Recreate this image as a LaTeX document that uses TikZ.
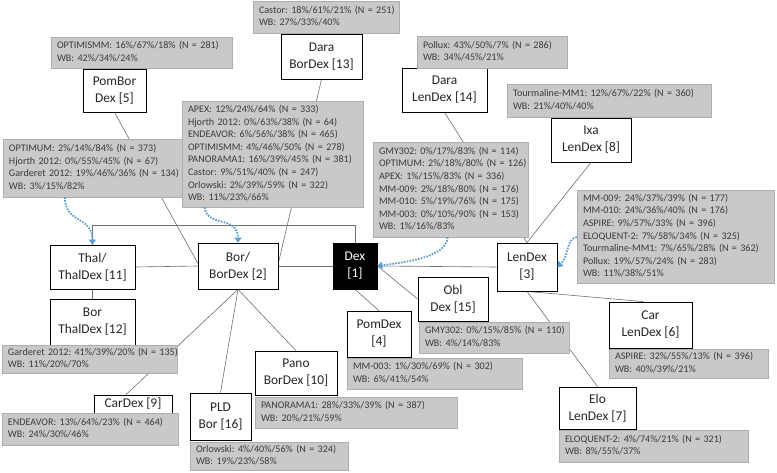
\documentclass[tikz,border=0pt]{standalone}
\usepackage{fontspec}
\setmainfont{Carlito}
\usetikzlibrary{arrows.meta,calc,backgrounds}
\definecolor{boxgray}{HTML}{C9C9C9}
\definecolor{boxedge}{HTML}{ADADAD}
\definecolor{linegray}{HTML}{6F6F6F}
\definecolor{dotblue}{HTML}{5B9BD5}
\definecolor{txt}{HTML}{3B3B3B}
\newcommand{\gtab}[1]{\begin{tabular}{@{}l@{}}#1\end{tabular}}
\frenchspacing
\begin{document}
\frenchspacing
\begin{tikzpicture}[x=1pt,y=-1pt,
  nb/.style={draw=black, line width=0.8pt, fill=white, text=black!85, align=center, inner sep=0pt, font=\fontsize{13.4}{17}\selectfont},
  gb/.style={draw=boxedge, line width=0.5pt, fill=boxgray, text=txt, inner xsep=6pt, inner ysep=0pt,
    font=\fontsize{10.1}{12.6}\selectfont\frenchspacing},
  con/.style={draw=linegray, line width=0.6pt},
  dotarrow/.style={draw=dotblue, line width=1.8pt, dash pattern=on 1.6pt off 1.3pt, -{Triangle[width=7pt,length=5pt]}}]
\useasboundingbox (0,0) rectangle (777,472);

% main nodes
\node[nb, minimum width=63pt, minimum height=43pt] (n5) at (114.5,90.5) {PomBor\\Dex [5]};
\node[nb, minimum width=81pt, minimum height=45pt] (n13) at (321.5,56.5) {Dara\\BorDex [13]};
\node[nb, minimum width=85pt, minimum height=44pt] (n14) at (444.5,90) {Dara\\LenDex [14]};
\node[nb, minimum width=80pt, minimum height=44pt] (n8) at (591,140) {Ixa\\LenDex [8]};
\node[nb, minimum width=60pt, minimum height=48pt] (n3) at (527,267) {LenDex\\{}[3]};
\node[nb, minimum width=44pt, minimum height=46pt, fill=black, text=white] (n1) at (355,266) {Dex\\{}[1]};
\node[nb, minimum width=80pt, minimum height=46pt] (n2) at (238,266) {Bor/\\BorDex [2]};
\node[nb, minimum width=85pt, minimum height=44pt] (n11) at (92.5,267) {Thal/\\ThalDex [11]};
\node[nb, minimum width=85pt, minimum height=46pt] (n12) at (92.5,322) {Bor\\ThalDex [12]};
\node[nb, minimum width=78pt, minimum height=18pt] (n9) at (133,404) {CarDex [9]};
\node[nb, minimum width=61pt, minimum height=47pt] (n16) at (220.5,416.5) {PLD\\Bor [16]};
\node[nb, minimum width=82pt, minimum height=44pt] (n10) at (296,373) {Pano\\BorDex [10]};
\node[nb, minimum width=64pt, minimum height=46pt] (n4) at (379,334) {PomDex\\{}[4]};
\node[nb, minimum width=70pt, minimum height=44pt] (n15) at (453,299) {Obl\\Dex [15]};
\node[nb, minimum width=83pt, minimum height=46pt] (n6) at (650.5,325) {Car\\LenDex [6]};
\node[nb, minimum width=77pt, minimum height=42pt] (n7) at (597.5,408) {Elo\\LenDex [7]};

% gray data boxes
\node[gb, text width=169pt, minimum height=31pt] (b5) at (141.5,52.5) {\gtab{OPTIMISMM: 16\%/67\%/18\% (N = 281)\\WB: 42\%/34\%/24\%}};
\node[gb, text width=134pt, minimum height=32pt] (b13) at (326,17) {\gtab{Castor: 18\%/61\%/21\% (N = 251)\\WB: 27\%/33\%/40\%}};
\node[gb, text width=138pt, minimum height=32pt] (b14) at (492,52) {\gtab{Pollux: 43\%/50\%/7\% (N = 286)\\WB: 34\%/45\%/21\%}};
\node[gb, text width=192pt, minimum height=33pt] (b8) at (609,100.5) {\gtab{Tourmaline-MM1: 12\%/67\%/22\% (N = 360)\\WB: 21\%/40\%/40\%}};
\node[gb, text width=169pt, minimum height=58pt] (bThal) at (93.5,168) {\gtab{OPTIMUM: 2\%/14\%/84\% (N = 373)\\Hjorth 2012: 0\%/55\%/45\% (N = 67)\\Garderet 2012: 19\%/46\%/36\% (N = 134)\\WB: 3\%/15\%/82\%}};
\node[gb, text width=169pt, minimum height=106pt] (bBor) at (272.5,154) {\gtab{APEX: 12\%/24\%/64\% (N = 333)\\Hjorth 2012: 0\%/63\%/38\% (N = 64)\\ENDEAVOR: 6\%/56\%/38\% (N = 465)\\OPTIMISMM: 4\%/46\%/50\% (N = 278)\\PANORAMA1: 16\%/39\%/45\% (N = 381)\\Castor: 9\%/51\%/40\% (N = 247)\\Orlowski: 2\%/39\%/59\% (N = 322)\\WB: 11\%/23\%/66\%}};
\node[gb, text width=143pt, minimum height=95pt] (bDex) at (450.5,189.5) {\gtab{GMY302: 0\%/17\%/83\% (N = 114)\\OPTIMUM: 2\%/18\%/80\% (N = 126)\\APEX: 1\%/15\%/83\% (N = 336)\\MM-009: 2\%/18\%/80\% (N = 176)\\MM-010: 5\%/19\%/76\% (N = 175)\\MM-003: 0\%/10\%/90\% (N = 153)\\WB: 1\%/16\%/83\%}};
\node[gb, text width=185pt, minimum height=93pt] (bLen) at (675.5,236.5) {\gtab{MM-009: 24\%/37\%/39\% (N = 177)\\MM-010: 24\%/36\%/40\% (N = 176)\\ASPIRE: 9\%/57\%/33\% (N = 396)\\ELOQUENT-2: 7\%/58\%/34\% (N = 325)\\Tourmaline-MM1: 7\%/65\%/28\% (N = 362)\\Pollux: 19\%/57\%/24\% (N = 283)\\WB: 11\%/38\%/51\%}};
\node[gb, text width=163pt, minimum height=28pt] (b12) at (89.5,359) {\gtab{Garderet 2012: 41\%/39\%/20\% (N = 135)\\WB: 11\%/20\%/70\%}};
\node[gb, text width=164pt, minimum height=32pt] (b9) at (90,429) {\gtab{ENDEAVOR: 13\%/64\%/23\% (N = 464)\\WB: 24\%/30\%/46\%}};
\node[gb, text width=146pt, minimum height=28pt] (b16) at (269,456) {\gtab{Orlowski: 4\%/40\%/56\% (N = 324)\\WB: 19\%/23\%/58\%}};
\node[gb, text width=190pt, minimum height=31pt] (b10) at (356,412.5) {\gtab{PANORAMA1: 28\%/33\%/39\% (N = 387)\\WB: 20\%/21\%/59\%}};
\node[gb, text width=163pt, minimum height=31pt] (b4) at (434.5,373.5) {\gtab{MM-003: 1\%/30\%/69\% (N = 302)\\WB: 6\%/41\%/54\%}};
\node[gb, text width=138pt, minimum height=31pt] (b15) at (494,337.5) {\gtab{GMY302: 0\%/15\%/85\% (N = 110)\\WB: 4\%/14\%/83\%}};
\node[gb, text width=147pt, minimum height=29pt] (b6) at (688.5,363.5) {\gtab{ASPIRE: 32\%/55\%/13\% (N = 396)\\WB: 40\%/39\%/21\%}};
\node[gb, text width=177pt, minimum height=32pt] (b7) at (653.5,446) {\gtab{ELOQUENT-2: 4\%/74\%/21\% (N = 321)\\WB: 8\%/55\%/37\%}};

% connectors (behind boxes)
\begin{scope}[on background layer]
\draw[con] (n11.north) -- ($(n11.north)+(0,-19)$) -| (n1.north);
\draw[con] (n11.east) -- (n2.west);
\draw[con] (n2.east) -- (n1.west);
\draw[con] (n1.east) -- (n3.west);
\draw[con] (n11.south) -- (n12.north);
\draw[con] (n5.south) -- ($(n2.west)+(0,-3)$);
\draw[con] (n13.south) -- ($(n2.east)+(0,-3)$);
\draw[con] (n2.south) -- ($(n9.north)+(-7,0)$);
\draw[con] (n2.south) -- (n16.north);
\draw[con] (n2.south) -- (n10.north);
\draw[con] (n1.south) -- (n4.north);
\draw[con] (n1.east) -- (n15.west);
\draw[con] (n14.south) -- (n3.north);
\draw[con] (n8.south) -- (n3.north);
\draw[con] (n3.south) -- ($(n6.north)+(-7,0)$);
\draw[con] (n3.south) -- (n7.north);
\end{scope}

% dotted blue arrows
\draw[dotarrow] ($(bThal.south west)+(62,0)$) .. controls (66,225) and (92,215) .. (n11.north);
\draw[dotarrow] ($(bBor.south west)+(23,0)$) .. controls (207,228) and (238,215) .. (n2.north);
\draw[dotarrow] ($(bDex.south west)+(75,0)$) .. controls (446,258) and (405,262) .. (n1.east);
\draw[dotarrow] ($(bLen.west)+(0,0.5)$) .. controls (566,239) and (569,256) .. (n3.east);
\end{tikzpicture}
\end{document}
